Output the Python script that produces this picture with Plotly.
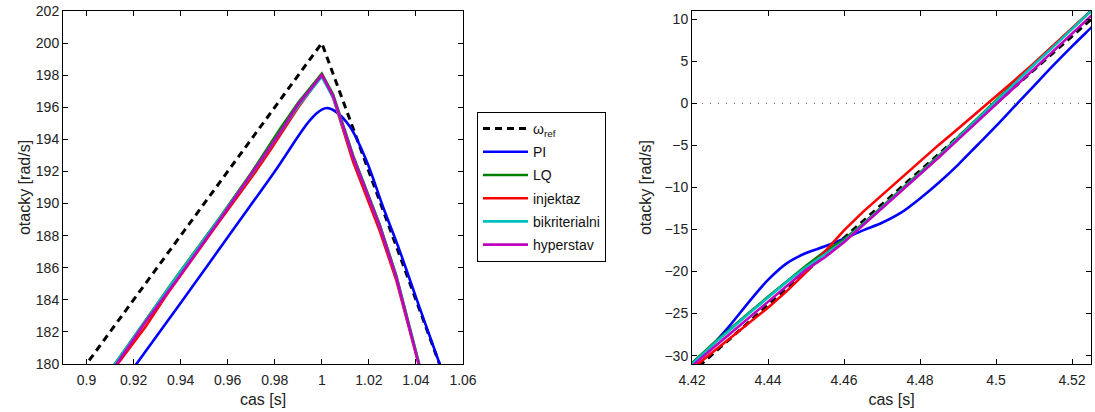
import plotly.graph_objects as go

# ---------------- data: left panel (peak around t = 1 s) ----------------
ref_left_t = [0.88, 0.90, 1.00, 1.05, 1.07]
ref_left_w = [176.0, 180.0, 200.0, 180.0, 172.0]

pi_left_t = [0.91, 0.9212, 0.94, 0.96, 0.98, 0.995, 1.000, 1.0025, 1.0062, 1.0119, 1.0189, 1.026, 1.033, 1.0373, 1.044, 1.0501, 1.056]
pi_left_w = [177.7, 180.0, 183.8, 187.9, 192.0, 195.2, 195.85, 195.95, 195.7, 194.8, 192.7, 189.8, 187.1, 185.3, 182.5, 180.0, 177.6]

lq_left_t = [0.90, 0.9122, 0.925, 0.9375, 0.9565, 0.97, 0.982, 0.99, 1.000, 1.0048, 1.0133, 1.0246, 1.0317, 1.0412, 1.046]
lq_left_w = [177.5, 180.0, 182.7, 185.3, 189.1, 191.9, 194.6, 196.3, 198.1, 196.8, 193.0, 188.7, 185.5, 180.1, 177.4]

inj_left_t = [0.90, 0.9132, 0.925, 0.934, 0.9565, 0.97, 0.978, 0.99, 1.000, 1.0048, 1.0133, 1.0246, 1.0317, 1.0412, 1.046]
inj_left_w = [177.3, 180.0, 182.3, 184.3, 188.9, 191.6, 193.3, 196.0, 198.0, 196.6, 192.6, 188.3, 185.2, 179.9, 177.3]

bik_left_t = [0.90, 0.9120, 0.925, 0.9382, 0.9567, 0.97, 0.9821, 0.99, 1.000, 1.0048, 1.0133, 1.0246, 1.0317, 1.0412, 1.046]
bik_left_w = [177.5, 180.0, 182.7, 185.4, 189.1, 191.8, 194.4, 196.1, 197.9, 196.6, 192.9, 188.6, 185.4, 180.0, 177.3]

hyp_left_t = [0.90, 0.9128, 0.925, 0.9382, 0.9567, 0.97, 0.9821, 0.99, 1.000, 1.0048, 1.0133, 1.0246, 1.0317, 1.0412, 1.046]
hyp_left_w = [177.4, 180.0, 182.6, 185.2, 189.0, 191.8, 194.4, 196.2, 198.0, 196.7, 192.9, 188.6, 185.4, 180.0, 177.3]

left_xticks = [0.90, 0.92, 0.94, 0.96, 0.98, 1.00, 1.02, 1.04, 1.06]
left_xtext = ["0.9", "0.92", "0.94", "0.96", "0.98", "1", "1.02", "1.04", "1.06"]
left_yticks = [180, 182, 184, 186, 188, 190, 192, 194, 196, 198, 200, 202]
left_ytext = [str(v) for v in left_yticks]

# ---------------- data: right panel (zero crossing around t = 4.5 s) ----------------
ref_right_t = [4.41, 4.53]
ref_right_w = [-36.0, 12.0]

right_t = [4.415, 4.420, 4.425, 4.430, 4.435, 4.440, 4.445, 4.450, 4.455, 4.460, 4.465, 4.470,
           4.475, 4.480, 4.485, 4.490, 4.495, 4.500, 4.505, 4.510, 4.515, 4.520, 4.525, 4.530]
pi_right_w = [-33.0, -30.9, -28.9, -26.4, -23.6, -21.0, -19.0, -17.8, -17.0, -16.1, -15.1, -14.2,
              -13.0, -11.3, -9.4, -7.3, -5.0, -2.7, -0.3, 2.1, 4.5, 6.8, 9.0, 11.2]
lq_right_w = [-32.8, -30.9, -28.8, -26.8, -24.9, -23.0, -21.1, -19.3, -17.6, -16.2, -14.3, -12.3,
              -10.3, -8.3, -6.2, -4.0, -1.8, 0.4, 2.6, 4.7, 6.8, 8.9, 11.0, 13.1]
inj_right_w = [-33.4, -31.6, -29.7, -28.0, -26.2, -24.3, -22.3, -20.1, -17.6, -15.1, -12.9, -10.9,
               -8.8, -6.9, -4.9, -3.0, -1.1, 0.8, 2.8, 4.8, 6.9, 8.9, 11.0, 13.1]
bik_right_w = [-32.9, -31.0, -28.9, -26.9, -25.0, -23.1, -21.2, -19.5, -17.9, -16.4, -14.4, -12.4,
               -10.4, -8.4, -6.3, -4.1, -1.9, 0.3, 2.4, 4.6, 6.7, 8.9, 11.0, 13.1]
hyp_right_w = [-33.2, -31.2, -29.3, -27.4, -25.5, -23.6, -21.7, -19.8, -18.3, -16.5, -14.5, -12.5,
               -10.5, -8.5, -6.4, -4.3, -2.2, -0.1, 2.0, 4.1, 6.2, 8.3, 10.4, 12.5]

zero_level = 0.0

right_xticks = [4.42, 4.44, 4.46, 4.48, 4.50, 4.52]
right_xtext = ["4.42", "4.44", "4.46", "4.48", "4.5", "4.52"]
right_yticks = [-30, -25, -20, -15, -10, -5, 0, 5, 10]
right_ytext = ["\u221230", "\u221225", "\u221220", "\u221215", "\u221210", "\u22125", "0", "5", "10"]

series_names = ["\u03c9<sub>ref</sub>", "PI", "LQ", "injektaz", "bikriterialni", "hyperstav"]
series_colors = ["#000000", "#0000ff", "#008000", "#ff0000", "#00bfbf", "#bf00bf"]

FONT = "Liberation Sans, Arial, sans-serif"

fig = go.Figure()

left_data = [(ref_left_t, ref_left_w), (pi_left_t, pi_left_w), (lq_left_t, lq_left_w),
             (inj_left_t, inj_left_w), (bik_left_t, bik_left_w), (hyp_left_t, hyp_left_w)]
right_data = [(ref_right_t, ref_right_w), (right_t, pi_right_w), (right_t, lq_right_w),
              (right_t, inj_right_w), (right_t, bik_right_w), (right_t, hyp_right_w)]

for i, ((tl, wl), (tr, wr)) in enumerate(zip(left_data, right_data)):
    is_ref = i == 0
    line = dict(color=series_colors[i], width=3 if is_ref else 2.6)
    if is_ref:
        line["dash"] = "7px,5px"
    shape = "spline" if i == 1 else "linear"
    fig.add_trace(go.Scatter(x=tl, y=wl, mode="lines", name=series_names[i],
                             line=dict(line, shape=shape), xaxis="x", yaxis="y",
                             legendgroup=str(i), showlegend=True))
    fig.add_trace(go.Scatter(x=tr, y=wr, mode="lines", name=series_names[i],
                             line=dict(line, shape=shape), xaxis="x2", yaxis="y2",
                             legendgroup=str(i), showlegend=False))

# dotted zero line in the right panel
fig.add_trace(go.Scatter(x=[4.41, 4.53], y=[zero_level, zero_level], mode="lines",
                         line=dict(color="#555555", width=1, dash="1px,7px"),
                         xaxis="x2", yaxis="y2", showlegend=False, hoverinfo="skip"))

axis_common = dict(showline=True, linecolor="black", linewidth=1, mirror="ticks",
                   ticks="inside", ticklen=5, tickcolor="black", showgrid=False,
                   zeroline=False, automargin=False, ticklabeloverflow="allow",
                   tickfont=dict(family=FONT, size=14, color="#222222"))

W, H = 1095, 412


def fx(px):
    return px / W


def fy(py):
    return 1 - py / H


fig.update_layout(
    width=W, height=H, autosize=False,
    margin=dict(l=0, r=0, t=0, b=0, autoexpand=False),
    paper_bgcolor="white", plot_bgcolor="white",
    font=dict(family=FONT, size=14, color="#222222"),
    xaxis=dict(axis_common, domain=[fx(63), fx(463)], range=[0.89, 1.06],
               tickmode="array", tickvals=left_xticks, ticktext=left_xtext, ticklabelstandoff=3,
               title=dict(text="cas [s]", font=dict(size=16), standoff=7), anchor="y"),
    yaxis=dict(axis_common, domain=[fy(364), fy(11)], range=[180, 202],
               tickmode="array", tickvals=left_yticks, ticktext=left_ytext,
               title=dict(text="otacky [rad/s]", font=dict(size=16), standoff=1), anchor="x"),
    xaxis2=dict(axis_common, domain=[fx(692), fx(1091)], range=[4.42, 4.525],
                tickmode="array", tickvals=right_xticks, ticktext=right_xtext, ticklabelstandoff=3,
                title=dict(text="cas [s]", font=dict(size=16), standoff=7), anchor="y2"),
    yaxis2=dict(axis_common, domain=[fy(364), fy(11)], range=[-31, 11],
                tickmode="array", tickvals=right_yticks, ticktext=right_ytext,
                title=dict(text="otacky [rad/s]", font=dict(size=16), standoff=8), anchor="x2"),
    legend=dict(x=fx(477), y=fy(112), xanchor="left", yanchor="top",
                bgcolor="white", bordercolor="black", borderwidth=1,
                font=dict(family=FONT, size=14, color="#111111"),
                traceorder="grouped", tracegroupgap=2, itemwidth=45),
    showlegend=True,
)

fig.write_html("out.html", config={"displayModeBar": False},
               post_script="document.body.style.margin = '0';")
